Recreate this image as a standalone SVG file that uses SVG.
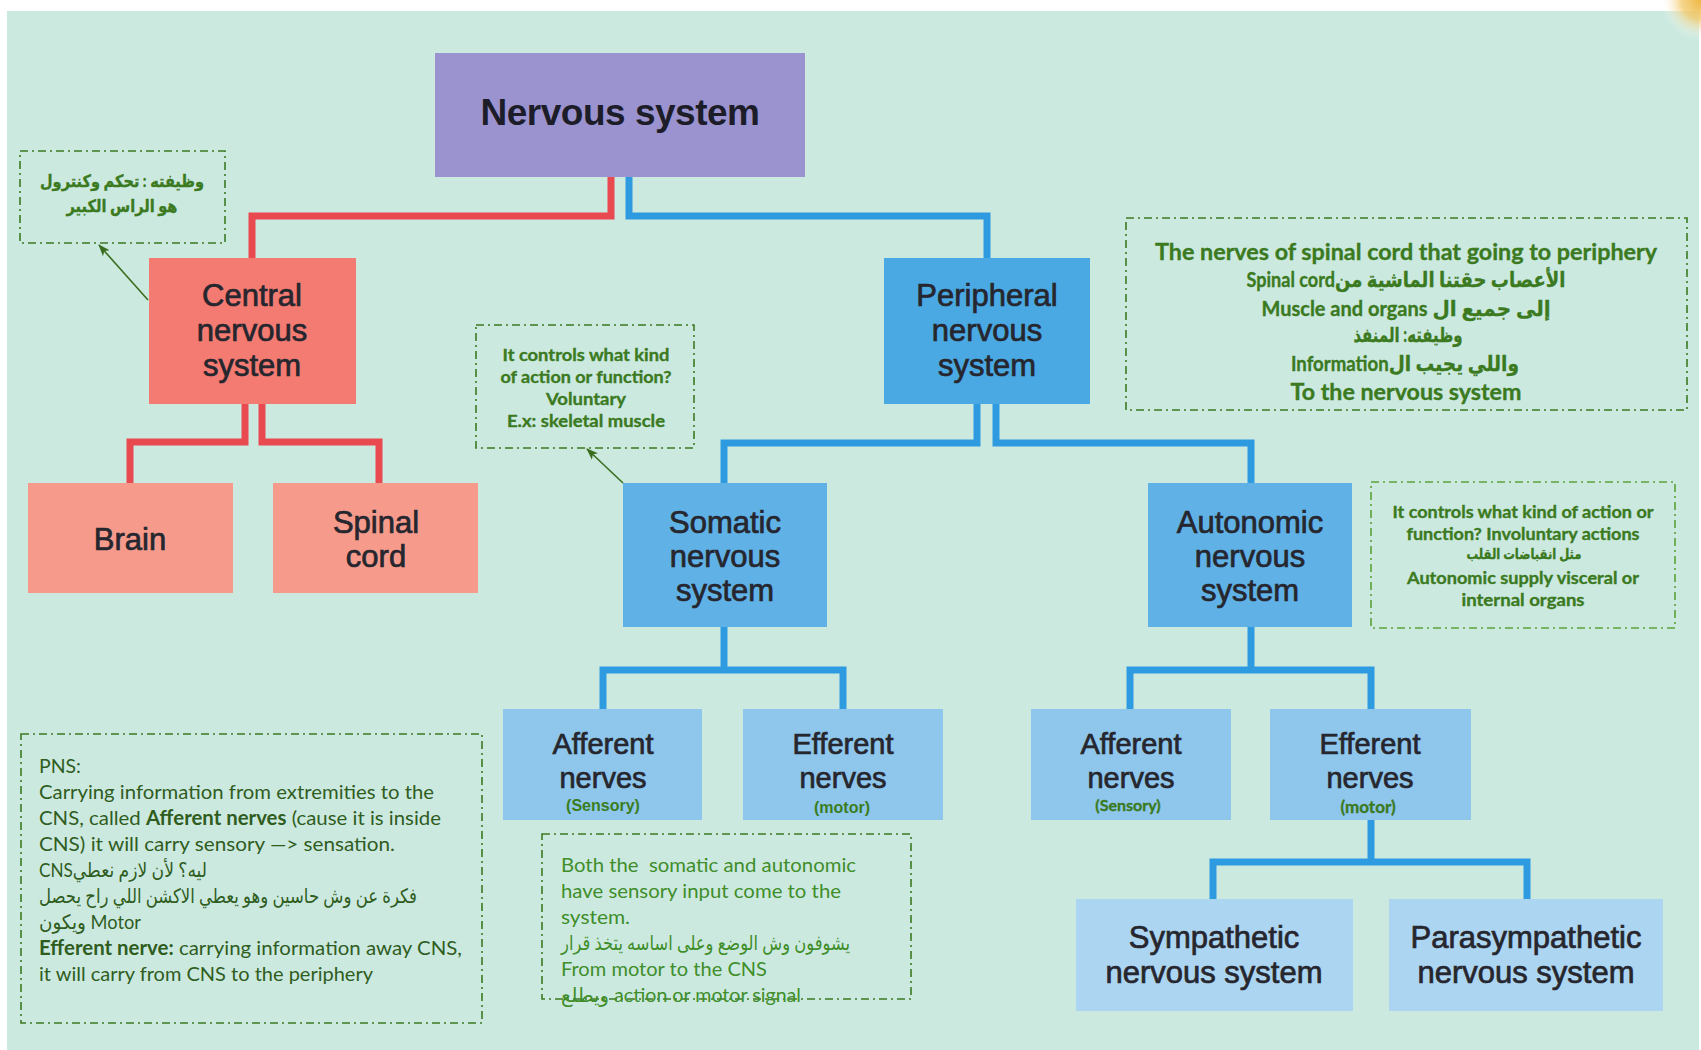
<svg xmlns="http://www.w3.org/2000/svg" width="1701" height="1050" viewBox="0 0 1701 1050">
<defs>
<style>
.nl{font-family:'Liberation Sans',Arial,sans-serif;font-size:31px;fill:#26262e;stroke:#26262e;stroke-width:0.7;text-anchor:middle}
.ns{font-size:29px}
.note{fill:none;stroke:#3d7a22;stroke-width:1.6;stroke-dasharray:8 4 2 4}
.note2{fill:none;stroke:#5ba23a;stroke-width:1.6;stroke-dasharray:8 4 2 4}
.nb{font-family:Lato,'DejaVu Sans',sans-serif;font-weight:bold;fill:#3b7a1f;stroke:#3b7a1f;stroke-width:0.35;text-anchor:middle}
.nr{font-family:Lato,'DejaVu Sans',sans-serif;font-size:20px}
.red{stroke:#e84a50;stroke-width:7;fill:none}
.blue{stroke:#2e9be0;stroke-width:7;fill:none}
.sub{font-family:'Liberation Sans',Arial,sans-serif;font-weight:bold;font-size:16px;fill:#3a7d1e;text-anchor:middle}
.arr{stroke:#3a6e1e;stroke-width:1.6;fill:none}
</style>
<radialGradient id="corner" cx="1701" cy="0" r="40" gradientUnits="userSpaceOnUse">
<stop offset="0" stop-color="#eeb640"/>
<stop offset="0.5" stop-color="#f3cc70" stop-opacity="0.8"/>
<stop offset="1" stop-color="#ffffff" stop-opacity="0"/>
</radialGradient>
<marker id="ah" viewBox="0 0 12 10" refX="11" refY="5" markerWidth="12" markerHeight="10" markerUnits="userSpaceOnUse" orient="auto">
<path d="M0,0.5 L12,5 L0,9.5 L3,5 z" fill="#3a6e1e"/>
</marker>
</defs>
<rect x="0" y="0" width="1701" height="1050" fill="#ffffff"/>
<rect x="7" y="11" width="1692" height="1039" fill="#cce9e0"/>
<rect x="1650" y="0" width="51" height="40" fill="url(#corner)"/>

<g id="connectors">
<polyline class="red" points="611,177 611,216 252,216 252,258"/>
<polyline class="red" points="245,404 245,442 130,442 130,483"/>
<polyline class="red" points="262,404 262,442 379,442 379,483"/>
<polyline class="blue" points="629,177 629,216 987,216 987,258"/>
<polyline class="blue" points="977,404 977,443 724,443 724,483"/>
<polyline class="blue" points="996,404 996,443 1251,443 1251,483"/>
<polyline class="blue" points="724,627 724,670"/>
<polyline class="blue" points="603,709 603,670 843,670 843,709"/>
<polyline class="blue" points="1251,627 1251,670"/>
<polyline class="blue" points="1130,709 1130,670 1371,670 1371,709"/>
<polyline class="blue" points="1371,820 1371,862"/>
<polyline class="blue" points="1213,899 1213,862 1527,862 1527,899"/>
<line class="arr" x1="148" y1="300" x2="99" y2="245" marker-end="url(#ah)"/>
<line class="arr" x1="623" y1="483" x2="587" y2="449" marker-end="url(#ah)"/>
</g>

<g id="nervous-system">
<rect x="435" y="53" width="370" height="124" fill="#9b93d0"/>
<text x="620" y="125" font-family="'Liberation Sans',Arial,sans-serif" font-weight="bold" font-size="37" fill="#1d1d2a" text-anchor="middle" letter-spacing="-0.5">Nervous system</text>
</g>

<g id="cns">
<rect x="149" y="258" width="207" height="146" fill="#f47b72"/>
<text class="nl" x="252" y="306">Central</text>
<text class="nl" x="252" y="341">nervous</text>
<text class="nl" x="252" y="376">system</text>
</g>

<g id="brain">
<rect x="28" y="483" width="205" height="110" fill="#f69b8c"/>
<text class="nl" x="130" y="550">Brain</text>
</g>

<g id="spinal-cord">
<rect x="273" y="483" width="205" height="110" fill="#f69b8c"/>
<text class="nl" x="376" y="533">Spinal</text>
<text class="nl" x="376" y="567">cord</text>
</g>

<g id="pns">
<rect x="884" y="258" width="206" height="146" fill="#4aa9e2"/>
<text class="nl" x="987" y="306">Peripheral</text>
<text class="nl" x="987" y="341">nervous</text>
<text class="nl" x="987" y="376">system</text>
</g>

<g id="somatic">
<rect x="623" y="483" width="204" height="144" fill="#5fb1e6"/>
<text class="nl" x="725" y="533">Somatic</text>
<text class="nl" x="725" y="567">nervous</text>
<text class="nl" x="725" y="601">system</text>
</g>

<g id="autonomic">
<rect x="1148" y="483" width="204" height="144" fill="#5fb1e6"/>
<text class="nl" x="1250" y="533">Autonomic</text>
<text class="nl" x="1250" y="567">nervous</text>
<text class="nl" x="1250" y="601">system</text>
</g>

<g id="somatic-afferent">
<rect x="503" y="709" width="199" height="111" fill="#8ec6ec"/>
<text class="nl ns" x="603" y="754">Afferent</text>
<text class="nl ns" x="603" y="788">nerves</text>
<text class="sub" x="603" y="811">(Sensory)</text>
</g>

<g id="somatic-efferent">
<rect x="743" y="709" width="200" height="111" fill="#8ec6ec"/>
<text class="nl ns" x="843" y="754">Efferent</text>
<text class="nl ns" x="843" y="788">nerves</text>
<text class="sub" x="842" y="813">(motor)</text>
</g>

<g id="autonomic-afferent">
<rect x="1031" y="709" width="200" height="111" fill="#8ec6ec"/>
<text class="nl ns" x="1131" y="754">Afferent</text>
<text class="nl ns" x="1131" y="788">nerves</text>
<text class="nb" x="1128" y="811" font-size="16">(Sensory)</text>
</g>

<g id="autonomic-efferent">
<rect x="1270" y="709" width="201" height="111" fill="#8ec6ec"/>
<text class="nl ns" x="1370" y="754">Efferent</text>
<text class="nl ns" x="1370" y="788">nerves</text>
<text class="nb" x="1368" y="813" font-size="17">(motor)</text>
</g>

<g id="sympathetic">
<rect x="1076" y="899" width="277" height="112" fill="#acd5f2"/>
<text class="nl" x="1214" y="948">Sympathetic</text>
<text class="nl" x="1214" y="983">nervous system</text>
</g>

<g id="parasympathetic">
<rect x="1389" y="899" width="274" height="112" fill="#acd5f2"/>
<text class="nl" x="1526" y="948">Parasympathetic</text>
<text class="nl" x="1526" y="983">nervous system</text>
</g>

<g id="note-cns">
<rect class="note" x="20" y="151" width="205" height="92"/>
<text class="nb" x="122" y="187" font-size="17" direction="rtl" textLength="164" lengthAdjust="spacingAndGlyphs">وظيفته : تحكم وكنترول</text>
<text class="nb" x="122" y="212" font-size="17" direction="rtl" textLength="111" lengthAdjust="spacingAndGlyphs">هو الراس الكبير</text>
</g>

<g id="note-somatic">
<rect class="note" x="476" y="325" width="218" height="123"/>
<text class="nb" x="586" y="361" font-size="17" textLength="167" lengthAdjust="spacingAndGlyphs">It controls what kind</text>
<text class="nb" x="586" y="383" font-size="17" textLength="171" lengthAdjust="spacingAndGlyphs">of action or function?</text>
<text class="nb" x="586" y="405" font-size="17" textLength="80" lengthAdjust="spacingAndGlyphs">Voluntary</text>
<text class="nb" x="586" y="427" font-size="17" textLength="158" lengthAdjust="spacingAndGlyphs">E.x: skeletal muscle</text>
</g>

<g id="note-pns">
<rect class="note" x="1126" y="218" width="561" height="192"/>
<text class="nb" x="1406" y="260" font-size="23" textLength="502" lengthAdjust="spacingAndGlyphs">The nerves of spinal cord that going to periphery</text>
<text class="nb" x="1406" y="287" font-size="21" direction="rtl" textLength="319" lengthAdjust="spacingAndGlyphs">الأعصاب حقتنا الماشية منSpinal cord</text>
<text class="nb" x="1406" y="316" font-size="21" direction="rtl" textLength="289" lengthAdjust="spacingAndGlyphs">إلى جميع ال Muscle and organs</text>
<text class="nb" x="1408" y="342" font-size="20" direction="rtl" textLength="109" lengthAdjust="spacingAndGlyphs">وظيفته: المنفذ</text>
<text class="nb" x="1405" y="371" font-size="21" direction="rtl" textLength="228" lengthAdjust="spacingAndGlyphs">واللي يجيب الInformation</text>
<text class="nb" x="1406" y="400" font-size="23" textLength="231" lengthAdjust="spacingAndGlyphs">To the nervous system</text>
</g>

<g id="note-autonomic">
<rect class="note2" x="1371" y="482" width="304" height="146"/>
<text class="nb" x="1523" y="518" font-size="17" textLength="261" lengthAdjust="spacingAndGlyphs">It controls what kind of action or</text>
<text class="nb" x="1523" y="540" font-size="17" textLength="233" lengthAdjust="spacingAndGlyphs">function? Involuntary actions</text>
<text class="nb" x="1524" y="559" font-size="14" direction="rtl" textLength="115" lengthAdjust="spacingAndGlyphs">مثل انقباضات القلب</text>
<text class="nb" x="1523" y="584" font-size="17" textLength="232" lengthAdjust="spacingAndGlyphs">Autonomic supply visceral or</text>
<text class="nb" x="1523" y="606" font-size="17" textLength="123" lengthAdjust="spacingAndGlyphs">internal organs</text>
</g>

<g id="note-pns-info" fill="#2f5d1e">
<rect class="note" x="21" y="734" width="461" height="289"/>
<text class="nr" x="39" y="773" textLength="42" lengthAdjust="spacingAndGlyphs">PNS:</text>
<text class="nr" x="39" y="799" textLength="395" lengthAdjust="spacingAndGlyphs">Carrying information from extremities to the</text>
<text class="nr" x="39" y="825" textLength="402" lengthAdjust="spacingAndGlyphs">CNS, called <tspan font-weight="bold">Afferent nerves</tspan> (cause it is inside</text>
<text class="nr" x="39" y="851" textLength="356" lengthAdjust="spacingAndGlyphs">CNS) it will carry sensory —&gt; sensation.</text>
<text class="nr" x="39" y="877" font-size="18" textLength="168" lengthAdjust="spacingAndGlyphs">CNSليه؟ لأن لازم نعطي</text>
<text class="nr" x="39" y="903" font-size="18" textLength="378" lengthAdjust="spacingAndGlyphs">فكرة عن وش حاسين وهو يعطي الاكشن اللي راح يحصل</text>
<text class="nr" x="39" y="929" textLength="102" lengthAdjust="spacingAndGlyphs">ويكون Motor</text>
<text class="nr" x="39" y="955" textLength="423" lengthAdjust="spacingAndGlyphs"><tspan font-weight="bold">Efferent nerve:</tspan> carrying information away CNS,</text>
<text class="nr" x="39" y="981" textLength="334" lengthAdjust="spacingAndGlyphs">it will carry from CNS to the periphery</text>
</g>

<g id="note-both" fill="#3f8e2a">
<rect class="note" x="542" y="834" width="369" height="165"/>
<text class="nr" x="561" y="872" textLength="295" lengthAdjust="spacingAndGlyphs" xml:space="preserve">Both the  somatic and autonomic</text>
<text class="nr" x="561" y="898" textLength="280" lengthAdjust="spacingAndGlyphs">have sensory input come to the</text>
<text class="nr" x="561" y="924" textLength="69" lengthAdjust="spacingAndGlyphs">system.</text>
<text class="nr" x="561" y="950" font-size="18" textLength="289" lengthAdjust="spacingAndGlyphs">يشوفون وش الوضع وعلى اساسه يتخذ قرار</text>
<text class="nr" x="561" y="976" textLength="206" lengthAdjust="spacingAndGlyphs">From motor to the CNS</text>
<text class="nr" x="561" y="1002" textLength="240" lengthAdjust="spacingAndGlyphs">ويطلع action or motor signal</text>
</g>
</svg>
